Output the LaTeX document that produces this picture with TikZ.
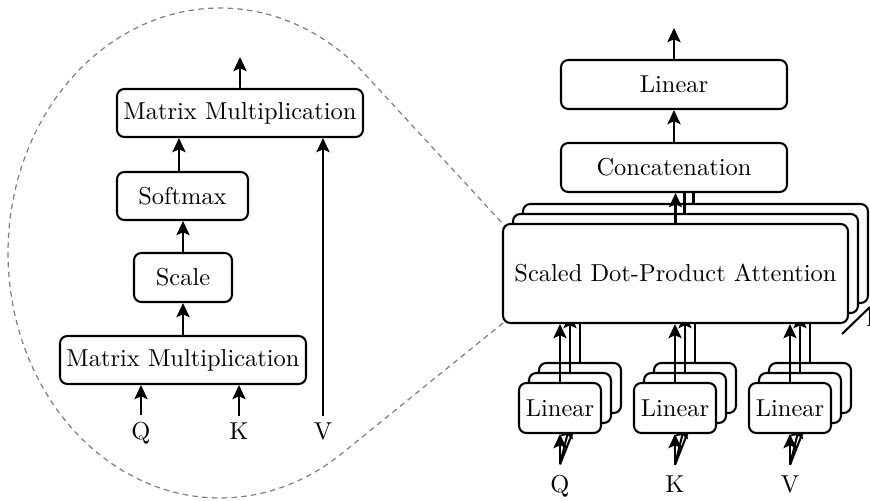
\documentclass[tikz,border=0pt]{standalone}
\usetikzlibrary{arrows.meta}
\def\pxu{0.409pt}
\begin{document}
\begin{tikzpicture}[x=0.409pt,y=-0.409pt,
  box/.style={draw, line width=0.85pt, rounded corners=3pt, fill=white, inner sep=0pt, align=center},
  wide/.style={box, minimum width=246*\pxu, minimum height=48*\pxu},
  topbox/.style={box, minimum width=226*\pxu, minimum height=49*\pxu},
  attbox/.style={box, minimum width=345*\pxu, minimum height=99*\pxu},
  linbox/.style={box, minimum width=82*\pxu, minimum height=50*\pxu},
  arr/.style={line width=0.85pt, -{Stealth[length=5.8pt,width=5.4pt,inset=1.2pt]}},
  ln/.style={line width=0.85pt},
  lblL/.style={anchor=base, inner sep=2.9pt},
  lblR/.style={anchor=base, inner sep=4.5pt},
  zoomline/.style={gray, line width=0.5pt, dash pattern=on 2.2pt off 1.8pt}
]
\useasboundingbox (0,0) rectangle (870,501);

% ---------------- left: scaled dot-product attention ----------------
\node[wide] (mmtop) at (240,113) {Matrix Multiplication};
\node[box, minimum width=131*\pxu, minimum height=48*\pxu] (softmax) at (182.5,196) {Softmax};
\node[box, minimum width=98*\pxu, minimum height=49*\pxu] (scale) at (183,277.5) {Scale};
\node[wide] (mmbot) at (183,360) {Matrix Multiplication};
\node[lblL] (qL) at (141,440) {Q};
\node[lblL] (kL) at (239,440) {K};
\node[lblL] (vL) at (323,440) {V};
\coordinate (outL) at (240,57);

\draw[arr] (qL.north) -- (qL.north |- mmbot.south);
\draw[arr] (kL.north) -- (kL.north |- mmbot.south);
\draw[arr] (vL.north) -- (vL.north |- mmtop.south);
\draw[arr] (mmbot.north) -- (mmbot.north |- scale.south);
\draw[arr] (scale.north) -- (scale.north |- softmax.south);
\draw[arr] ([xshift=-3.5*\pxu]softmax.north) -- ([xshift=-3.5*\pxu]softmax.north |- mmtop.south);
\draw[arr] (mmtop.north) -- (outL);

% ---------------- right: multi-head attention ----------------
\coordinate (outR) at (674,28);
\node[topbox] (linout) at (674,84.5) {Linear};
\node[topbox] (concat) at (674,167.5) {Concatenation};
\draw[arr] (linout.north) -- (outR);
\draw[arr] (concat.north) -- (concat.north |- linout.south);

\node[lblR] (qR) at (560,493) {Q};
\node[lblR] (kR) at (675,493) {K};
\node[lblR] (vR) at (790,493) {V};

% zoom outline (drawn behind the stack)
\coordinate (zA) at (503,323);
\coordinate (zB) at (503,224);
\draw[zoomline] (zA) -- plot[domain=-305:-46.77, samples=150] ({220+212*cos(\x)},{253+245*sin(\x)}) -- (zB);

% layer 3 (back)
\node[attbox] (att3) at (695.5,253.5) {};
\node[linbox] (lin3Q) at (580,388) {};
\node[linbox] (lin3K) at (695,388) {};
\node[linbox] (lin3V) at (810,388) {};
\foreach \n/\l in {lin3Q/qR, lin3K/kR, lin3V/vR} {
  \draw[arr] (\n.north) -- (\n.north |- att3.south);
  \draw[arr] (\l.north) -- (\n.south);
}
\draw[ln] ([xshift=-2*\pxu]att3.north) -- ([xshift=-2*\pxu]att3.north |- concat.south);

% layer 2
\node[attbox] (att2) at (685.5,263.5) {};
\node[linbox] (lin2Q) at (570,398) {};
\node[linbox] (lin2K) at (685,398) {};
\node[linbox] (lin2V) at (800,398) {};
\foreach \n/\l in {lin2Q/qR, lin2K/kR, lin2V/vR} {
  \draw[arr] (\n.north) -- (\n.north |- att2.south);
  \draw[arr] (\l.north) -- (\n.south);
}
\draw[ln] ([xshift=-1*\pxu]att2.north) -- ([xshift=-1*\pxu]att2.north |- concat.south);

% layer 1 (front)
\node[attbox] (att1) at (675.5,273.5) {Scaled Dot-Product Attention};
\node[linbox] (lin1Q) at (560,408) {Linear};
\node[linbox] (lin1K) at (675,408) {Linear};
\node[linbox] (lin1V) at (790,408) {Linear};
\foreach \n/\l in {lin1Q/qR, lin1K/kR, lin1V/vR} {
  \draw[arr] (\n.north) -- (\n.north |- att1.south);
  \draw[arr] (\l.north) -- (\n.south);
}
\draw[arr] (att1.north) -- (att1.north |- concat.south);

% h label
\coordinate (hA) at (842,334);
\coordinate (hB) at (870,307);
\draw[ln] (hA) -- (hB);
\node[anchor=base west, inner sep=0pt] (hlab) at (866,327) {h};
\end{tikzpicture}
\end{document}
